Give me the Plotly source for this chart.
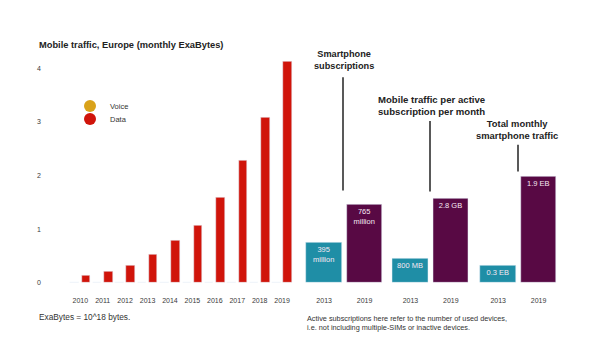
import plotly.graph_objects as go

# ---- data ----
years = ["2010", "2011", "2012", "2013", "2014", "2015", "2016", "2017", "2018", "2019"]
data_eb = [0.13, 0.20, 0.32, 0.52, 0.78, 1.07, 1.58, 2.28, 3.09, 4.13]
voice_eb = [0, 0, 0, 0, 0, 0, 0, 0, 0, 0]

pair_years = ["2013", "2019"]
subs_million = [395, 765]
subs_labels = ["395<br>million", "765<br>million"]
traffic_per_sub_gb = [0.8, 2.8]
traffic_per_sub_labels = ["800 MB", "2.8 GB"]
total_traffic_eb = [0.3, 1.9]
total_traffic_labels = ["0.3 EB", "1.9 EB"]

RED = "#d0140a"
GOLD = "#d9a21a"
TEAL = "#1f8ea6"
PURPLE = "#580944"
FONT = "Liberation Sans, Arial, sans-serif"
W, H = 600, 363

def px(x):
    return x / W

def py(y):
    return (H - y) / H

fig = go.Figure()

# left chart
fig.add_trace(go.Bar(x=years, y=voice_eb, marker_color=GOLD, width=0.38, showlegend=False,
                     xaxis="x", yaxis="y"))
fig.add_trace(go.Bar(x=years, y=data_eb, marker_color=RED, width=0.38, showlegend=False,
                     xaxis="x", yaxis="y"))
# legend entries (circle symbols)
fig.add_trace(go.Scatter(x=[None], y=[None], mode="markers", name="Voice", legend="legend",
                         marker=dict(symbol="circle", size=8, color=GOLD), xaxis="x", yaxis="y"))
fig.add_trace(go.Scatter(x=[None], y=[None], mode="markers", name="Data", legend="legend2",
                         marker=dict(symbol="circle", size=8, color=RED), xaxis="x", yaxis="y"))

# right panel pairs
pairs = [
    (subs_million, subs_labels, "x2", "y2"),
    (traffic_per_sub_gb, traffic_per_sub_labels, "x3", "y3"),
    (total_traffic_eb, total_traffic_labels, "x4", "y4"),
]
for vals, labels, xa, ya in pairs:
    fig.add_trace(go.Bar(
        x=pair_years, y=vals, text=labels, textposition="inside", insidetextanchor="end",
        textangle=0, constraintext="none", cliponaxis=False,
        textfont=dict(size=7.5, color="#f6e8f2", family=FONT),
        marker_color=[TEAL, PURPLE], width=0.88, showlegend=False, xaxis=xa, yaxis=ya))

ydom = [py(285), py(50)]
tickfont = dict(size=7, color="#3a3a3a", family=FONT)
legfont = dict(size=7.5, color="#333333", family=FONT)

layout = dict(
    width=W, height=H, margin=dict(l=0, r=0, t=0, b=0),
    paper_bgcolor="white", plot_bgcolor="white",
    font=dict(family=FONT, color="#333333"),
    bargap=0,
    xaxis=dict(domain=[px(42), px(293.3)], range=[-1.707, 9.5], type="category",
               showgrid=False, zeroline=False, showline=False, ticks="",
               tickfont=tickfont, ticklabelstandoff=12),
    yaxis=dict(domain=ydom, range=[0, 4.35], tickvals=[0, 1, 2, 3, 4],
               showgrid=False, zeroline=False, showline=False, ticks="",
               tickfont=tickfont, ticklabelstandoff=0),
    legend=dict(x=px(70), y=py(107), xanchor="left", yanchor="middle", font=legfont,
                bgcolor="rgba(0,0,0,0)", itemsizing="constant"),
    legend2=dict(x=px(70), y=py(120), xanchor="left", yanchor="middle", font=legfont,
                 bgcolor="rgba(0,0,0,0)", itemsizing="constant"),
)

ranges = [2296, 7.74, 4.185]
domains = [[px(303.95), px(384.75)], [px(390.25), px(471.05)], [px(478.0), px(558.8)]]
for i, (rng, dom) in enumerate(zip(ranges, domains), start=2):
    layout[f"xaxis{i}"] = dict(domain=dom, anchor=f"y{i}", type="category", range=[-0.5, 1.5],
                               showgrid=False, zeroline=False, showline=False, ticks="",
                               tickfont=tickfont, ticklabelstandoff=12)
    layout[f"yaxis{i}"] = dict(domain=ydom, anchor=f"x{i}", range=[0, rng], visible=False)

fig.update_layout(**layout)

annots = [
    dict(x=px(37), y=py(45), text="<b>Mobile traffic, Europe (monthly ExaBytes)</b>",
         xanchor="left", yanchor="middle", font=dict(size=9.3, color="#222222")),
    dict(x=px(37), y=py(320), text="ExaBytes = 10^18 bytes.",
         xanchor="left", yanchor="middle", font=dict(size=8.3, color="#333333")),
    dict(x=px(344), y=py(61), text="<b>Smartphone<br>subscriptions</b>",
         xanchor="center", yanchor="middle", font=dict(size=9.2, color="#222222")),
    dict(x=px(431), y=py(106), text="<b>Mobile traffic per active<br>subscription per month</b>",
         xanchor="center", yanchor="middle", font=dict(size=9.6, color="#222222")),
    dict(x=px(517), y=py(131), text="<b>Total monthly<br>smartphone traffic</b>",
         xanchor="center", yanchor="middle", font=dict(size=9.4, color="#222222")),
    dict(x=px(305), y=py(326),
         text="Active subscriptions here refer to the number of used devices,<br>i.e. not including multiple-SIMs or inactive devices.",
         xanchor="left", yanchor="middle", align="left", font=dict(size=7.3, color="#333333")),
]
for a in annots:
    a.update(xref="paper", yref="paper", showarrow=False)
    a["font"]["family"] = FONT
fig.update_layout(annotations=annots)

for x0, y0, y1 in [(343, 78, 192), (430, 122, 193), (518, 146, 173)]:
    fig.add_shape(type="line", xref="paper", yref="paper", x0=px(x0), x1=px(x0),
                  y0=py(y0), y1=py(y1), line=dict(color="#222222", width=1.5))

fig.write_html("out.html", config={"displayModeBar": False},
               post_script="document.body.style.margin='0';")
